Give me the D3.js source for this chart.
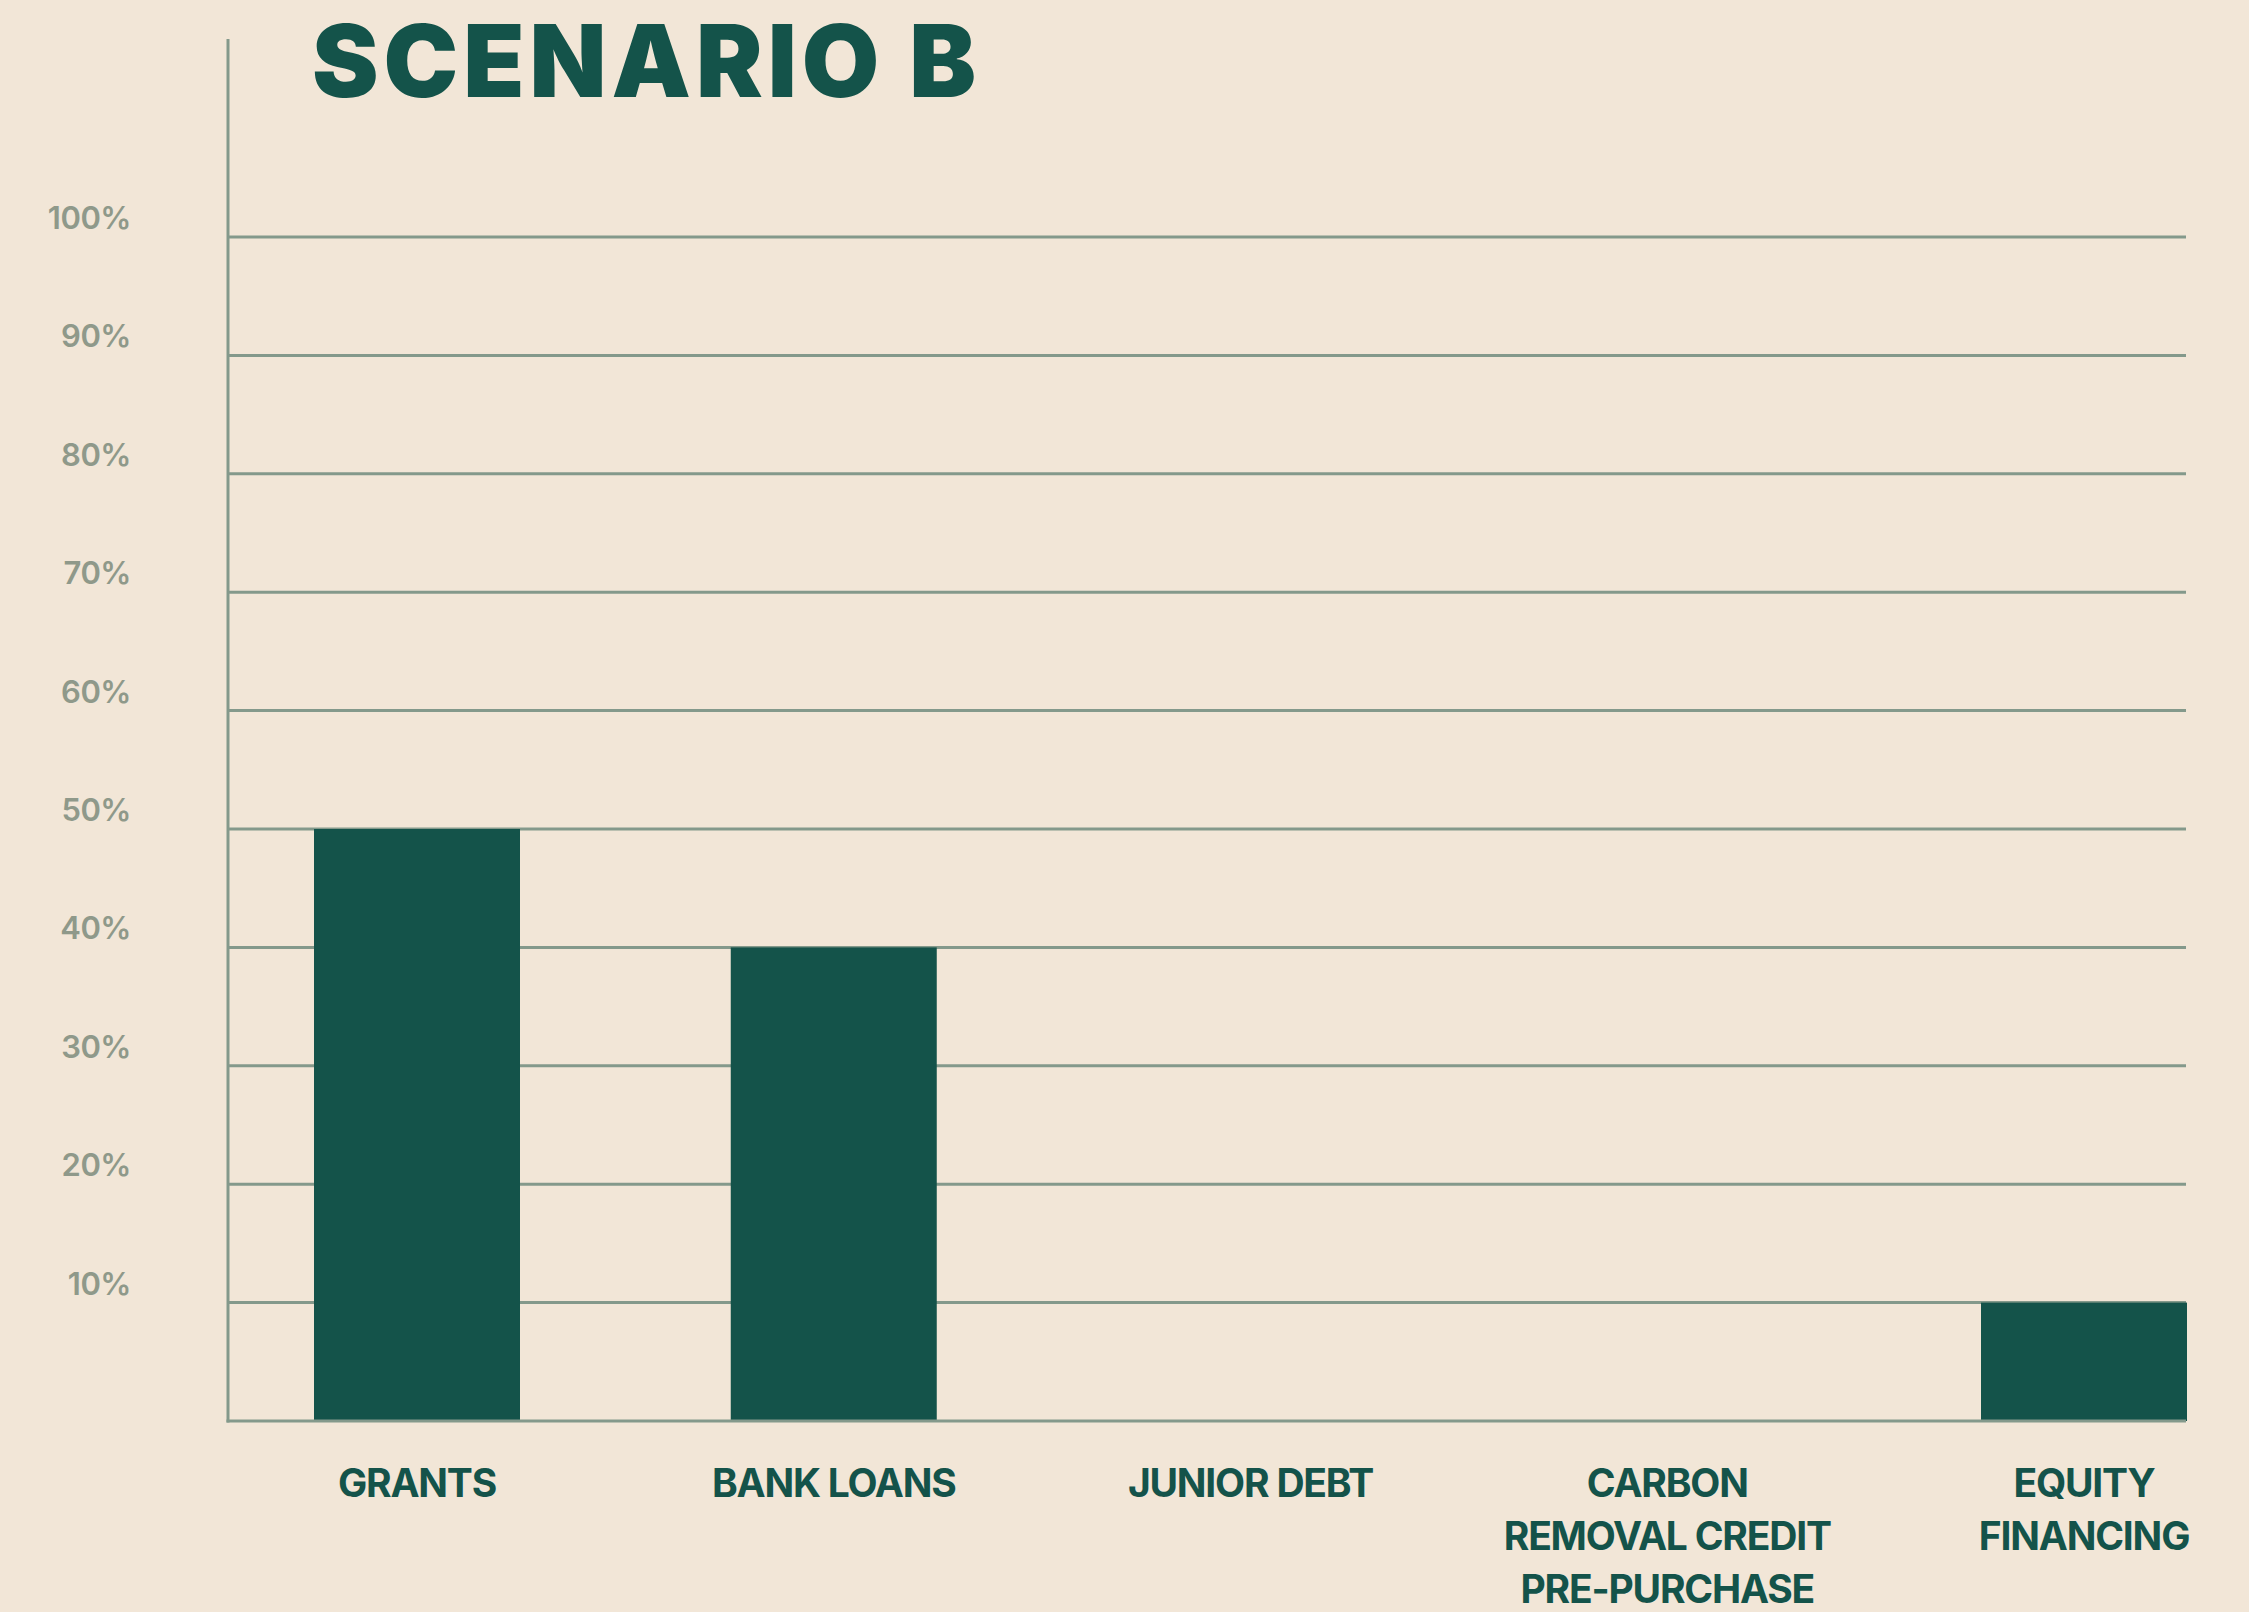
<!DOCTYPE html>
<html>
<head>
<meta charset="utf-8">
<script src="https://cdn.jsdelivr.net/npm/d3@7"></script>
<style>
  html, body { margin: 0; padding: 0; background: #F2E6D7; }
  svg { display: block; }
</style>
</head>
<body>
<svg id="chart" width="2249" height="1612"></svg>
<script>
// Funding mix for scenario B
const title = "SCENARIO B";
const categories = ["GRANTS", "BANK LOANS", "JUNIOR DEBT", "CARBON REMOVAL CREDIT PRE-PURCHASE", "EQUITY FINANCING"];
const categoryLines = [
  ["GRANTS"],
  ["BANK LOANS"],
  ["JUNIOR DEBT"],
  ["CARBON", "REMOVAL CREDIT", "PRE-PURCHASE"],
  ["EQUITY", "FINANCING"]
];
const shares = [50, 40, 0, 0, 10];
const yTicks = [10, 20, 30, 40, 50, 60, 70, 80, 90, 100];
const yTickLabels = ["10%", "20%", "30%", "40%", "50%", "60%", "70%", "80%", "90%", "100%"];

const BG = "#F2E6D7";
const DARK = "#14534A";
const GRID = "#84998B";
const TICK = "#8F998A";

const svg = d3.select("#chart");
svg.append("rect").attr("width", 2249).attr("height", 1612).attr("fill", BG);

const plot = { left: 228, right: 2186, top: 237, bottom: 1421, axisTop: 39 };

const y = d3.scaleLinear().domain([0, 100]).range([plot.bottom, plot.top]);
const x = d3.scaleBand()
  .domain(categories)
  .range([314, 2187])
  .paddingInner(0.5057)
  .paddingOuter(0);

// horizontal gridlines
svg.append("g")
  .selectAll("line")
  .data(yTicks)
  .join("line")
  .attr("x1", plot.left)
  .attr("x2", plot.right)
  .attr("y1", d => y(d))
  .attr("y2", d => y(d))
  .attr("stroke", GRID)
  .attr("stroke-width", 3);

// bars
svg.append("g")
  .selectAll("rect")
  .data(categories.map((c, i) => ({ c, v: shares[i] })))
  .join("rect")
  .attr("x", d => x(d.c))
  .attr("width", x.bandwidth())
  .attr("y", d => y(d.v))
  .attr("height", d => y(0) - y(d.v))
  .attr("fill", DARK);

// axis lines
svg.append("line")
  .attr("x1", plot.left).attr("x2", plot.left)
  .attr("y1", plot.axisTop).attr("y2", plot.bottom + 1.5)
  .attr("stroke", GRID).attr("stroke-width", 3);
svg.append("line")
  .attr("x1", plot.left - 1.5).attr("x2", plot.right)
  .attr("y1", y(0)).attr("y2", y(0))
  .attr("stroke", GRID).attr("stroke-width", 3);

// y tick labels
svg.append("g")
  .selectAll("text")
  .data(yTicks)
  .join("text")
  .attr("x", 131)
  .attr("y", d => y(d) - 8)
  .attr("text-anchor", "end")
  .attr("font-family", "Inter, 'Noto Sans', sans-serif")
  .attr("font-weight", 600)
  .attr("font-size", 31)
  .attr("letter-spacing", -0.5)
  .attr("fill", TICK)
  .text((d, i) => yTickLabels[i]);

// category labels
const catG = svg.append("g")
  .attr("font-family", "Inter, 'Noto Sans', sans-serif")
  .attr("font-weight", 700)
  .attr("font-size", 39)
  .attr("letter-spacing", -1.2)
  .attr("fill", DARK)
  .attr("text-anchor", "middle");

categories.forEach((c, i) => {
  const t = catG.append("text")
    .attr("x", x(c) + x.bandwidth() / 2)
    .attr("y", 1497);
  categoryLines[i].forEach((line, j) => {
    t.append("tspan")
      .attr("x", x(c) + x.bandwidth() / 2)
      .attr("dy", j === 0 ? 0 : 53)
      .text(line);
  });
});

// title
svg.append("text")
  .attr("x", 312)
  .attr("y", 97)
  .attr("font-family", "Inter, 'Noto Sans', sans-serif")
  .attr("font-weight", 900)
  .attr("font-size", 100)
  .attr("textLength", 664)
  .attr("lengthAdjust", "spacing")
  .attr("fill", DARK)
  .text(title);
</script>
</body>
</html>
